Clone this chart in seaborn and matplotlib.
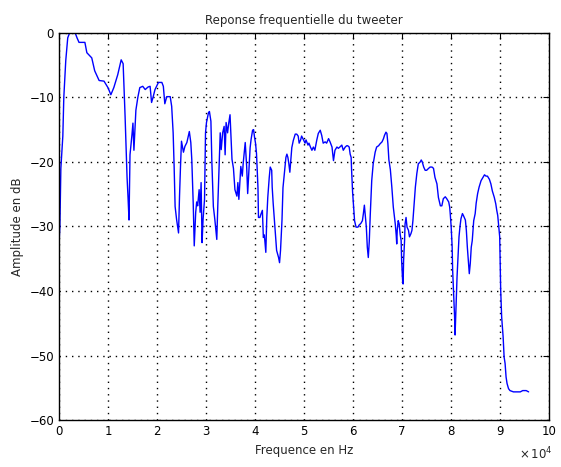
import numpy as np
import pandas as pd
import matplotlib
matplotlib.use("Agg")
import matplotlib.pyplot as plt
import seaborn as sns

# frequency (in units of 1e4 Hz) and amplitude (dB)
freq_e4 = [
    0.00, 0.02, 0.04, 0.08, 0.10, 0.14, 0.18, 0.22, 0.29, 0.33, 0.37, 0.41, 0.53, 0.57,
    0.67, 0.73, 0.82, 0.92, 1.00, 1.06, 1.12, 1.20, 1.27, 1.31, 1.35, 1.39, 1.41, 1.43,
    1.45, 1.49, 1.51, 1.53, 1.57, 1.61, 1.65, 1.71, 1.76, 1.82, 1.86, 1.89, 1.92, 1.96,
    2.03, 2.10, 2.13, 2.16, 2.20, 2.27, 2.30, 2.33, 2.35, 2.37, 2.40, 2.44, 2.46, 2.48,
    2.50, 2.54, 2.57, 2.61, 2.64, 2.66, 2.69, 2.71, 2.74, 2.76, 2.79, 2.81, 2.83, 2.86,
    2.88, 2.90, 2.92, 2.94, 2.97, 2.99, 3.01, 3.05, 3.07, 3.10, 3.12, 3.15, 3.18, 3.22,
    3.24, 3.27, 3.29, 3.31, 3.34, 3.37, 3.39, 3.41, 3.44, 3.46, 3.49, 3.51, 3.53, 3.56,
    3.59, 3.63, 3.65, 3.67, 3.71, 3.74, 3.76, 3.80, 3.83, 3.85, 3.88, 3.90, 3.92, 3.95,
    3.97, 3.99, 4.01, 4.03, 4.06, 4.07, 4.10, 4.12, 4.15, 4.17, 4.19, 4.22, 4.24, 4.26,
    4.29, 4.31, 4.34, 4.35, 4.37, 4.41, 4.44, 4.48, 4.50, 4.52, 4.55, 4.57, 4.60, 4.63,
    4.65, 4.67, 4.69, 4.71, 4.73, 4.75, 4.78, 4.82, 4.85, 4.88, 4.90, 4.93, 4.95, 4.99,
    5.02, 5.04, 5.08, 5.10, 5.13, 5.16, 5.19, 5.22, 5.26, 5.29, 5.33, 5.36, 5.39, 5.43,
    5.46, 5.50, 5.53, 5.57, 5.60, 5.63, 5.67, 5.70, 5.73, 5.77, 5.80, 5.84, 5.87, 5.89,
    5.92, 5.94, 5.96, 5.97, 5.99, 6.01, 6.03, 6.06, 6.10, 6.12, 6.16, 6.19, 6.21, 6.23,
    6.25, 6.27, 6.29, 6.31, 6.33, 6.35, 6.38, 6.41, 6.45, 6.48, 6.52, 6.55, 6.59, 6.62,
    6.64, 6.67, 6.69, 6.71, 6.73, 6.76, 6.79, 6.82, 6.86, 6.88, 6.89, 6.90, 6.92, 6.94,
    6.96, 6.98, 6.99, 7.01, 7.02, 7.03, 7.05, 7.06, 7.08, 7.10, 7.13, 7.15, 7.18, 7.20,
    7.22, 7.24, 7.27, 7.30, 7.33, 7.37, 7.39, 7.41, 7.44, 7.47, 7.50, 7.54, 7.57, 7.61,
    7.64, 7.67, 7.71, 7.74, 7.78, 7.81, 7.84, 7.88, 7.91, 7.95, 7.97, 7.98, 8.00, 8.02,
    8.03, 8.05, 8.07, 8.08, 8.10, 8.12, 8.14, 8.16, 8.18, 8.20, 8.23, 8.25, 8.29, 8.31,
    8.33, 8.35, 8.37, 8.39, 8.41, 8.43, 8.46, 8.49, 8.51, 8.54, 8.57, 8.61, 8.65, 8.68,
    8.71, 8.74, 8.78, 8.81, 8.84, 8.88, 8.91, 8.93, 8.95, 8.97, 8.99, 9.00, 9.01, 9.03,
    9.06, 9.08, 9.10, 9.12, 9.14, 9.17, 9.20, 9.27, 9.34, 9.41, 9.46, 9.53, 9.58,
]
amp_db = [
    -33, -30, -21, -16, -10, -4.3, -0.8, 0, 0, 0, -0.8, -1.5, -1.5, -3.1,
    -3.9, -5.9, -7.4, -7.5, -8.5, -9.6, -8.5, -6.5, -4.2, -4.8, -13, -22.4, -25.5, -29,
    -18.9, -15.8, -14, -18.2, -12, -10, -8.5, -8.3, -8.8, -8.4, -8.3, -10.8, -10, -8.8,
    -7.7, -7.7, -8.3, -11, -9.9, -9.9, -11.4, -15.5, -20.7, -26.9, -28.9, -31, -25.3, -20.7,
    -16.8, -18.5, -17.6, -17, -16, -15.3, -17, -19.6, -26.6, -33, -27.8, -26.2, -26.8, -24.3,
    -27.8, -23.2, -32.5, -28.9, -25.8, -15.5, -13.9, -12.4, -12.2, -13.7, -20.1, -26.9, -28.9, -32,
    -26.9, -20.1, -15.5, -18.1, -15.5, -14.5, -18.9, -13.9, -15.5, -14.2, -12.7, -16, -19.6, -21,
    -24.3, -25.3, -23.2, -25.8, -20.7, -22.2, -20.1, -17, -20.8, -24.9, -20.8, -17.8, -16.5, -15.1,
    -15, -16.2, -17.1, -18.7, -24, -28.6, -28.6, -28.1, -27.5, -31.7, -31.3, -34, -28.6, -25.5,
    -22.4, -20.8, -21.3, -23.9, -26.4, -30.6, -33.7, -34.8, -35.6, -33.7, -29, -24, -21.6, -19.3,
    -18.8, -19.3, -20.3, -21.6, -19.8, -17.8, -16.7, -15.7, -15.7, -16, -17.1, -16.6, -16, -16.6,
    -17.1, -16.6, -17.4, -17.1, -17.7, -18.2, -17.7, -18.2, -16.6, -15.6, -15.1, -15.9, -17.1, -16.9,
    -17.1, -16.4, -16.9, -17.7, -19.8, -18.2, -17.7, -17.9, -17.7, -17.4, -18.2, -17.7, -17.5, -17.5,
    -17.7, -18.8, -19.3, -21.4, -24.7, -27, -29.1, -30.1, -30.1, -29.8, -29.5, -29.1, -28, -26.7,
    -28.5, -30.1, -33.2, -34.8, -32.3, -28.2, -22.9, -20.3, -18.5, -17.7, -17.5, -17.2, -16.9, -16.4,
    -15.9, -15.4, -15.6, -17.2, -19.7, -21.2, -23.9, -27, -29.6, -31.4, -32.7, -30.6, -29.1, -29.6,
    -31.2, -32.2, -35.3, -38.4, -38.9, -35.3, -32.2, -29.6, -28.6, -30.1, -30.6, -31.6, -31.1, -30.6,
    -29.1, -27, -23.9, -21.8, -20.3, -20, -19.7, -20, -20.8, -21.3, -21.3, -21, -20.8, -20.8,
    -21, -22.4, -23.4, -25.5, -26.8, -26.8, -25.7, -25.4, -25.7, -26.2, -27, -27.9, -30, -33.1,
    -36.7, -40.4, -44, -46.8, -42.5, -37.8, -34.7, -31.6, -30, -28.8, -28, -28.3, -29, -30.6,
    -33.2, -35.2, -37.3, -35.7, -33.2, -32.2, -29.1, -28, -26.4, -24.9, -23.9, -22.9, -22.4, -22,
    -22.2, -22.2, -22.7, -23.4, -24.5, -25.5, -26.5, -27.5, -28.3, -30, -31.6, -35.7, -39.8, -44,
    -47.1, -50.2, -51.2, -53.3, -54.3, -55.1, -55.4, -55.6, -55.6, -55.6, -55.4, -55.4, -55.6,
]

xtick_labels = ["0", "1", "2", "3", "4", "5", "6", "7", "8", "9", "10"]

df = pd.DataFrame({"freq": np.array(freq_e4) * 1e4, "amp": amp_db})

sns.set_style("white")
plt.rcParams["font.family"] = ["DejaVu Sans"]

fig = plt.figure(figsize=(5.61, 4.67), dpi=100)
ax = fig.add_axes([0.105, 0.1, 0.874, 0.83])

sns.lineplot(data=df, x="freq", y="amp", ax=ax, color="blue",
             linewidth=1.0, estimator=None, sort=False)

ax.set_xlim(0, 100000)
ax.set_ylim(-60, 0)
ax.set_xticks(np.arange(0, 100001, 10000))
ax.set_xticklabels(xtick_labels)
ax.set_yticks(np.arange(-60, 1, 10))

# matlab-ish sparse dotted grid
ax.grid(True, linestyle=(0, (1, 3.5)), color="black", linewidth=1.0)
ax.tick_params(direction="in", top=True, right=True, length=4,
               labelsize=8.5, colors="black")
for s in ax.spines.values():
    s.set_color("black")
    s.set_linewidth(1.0)

ax.set_title("Reponse frequentielle du tweeter", fontsize=8.5)
ax.set_xlabel("Frequence en Hz", fontsize=8.5)
ax.set_ylabel("Amplitude en dB", fontsize=8.5)
fig.text(0.955, 0.01, r"$\times\,10^{4}$", fontsize=8.5, ha="center", va="bottom")

fig.savefig("out.png", dpi=100, facecolor="white")
